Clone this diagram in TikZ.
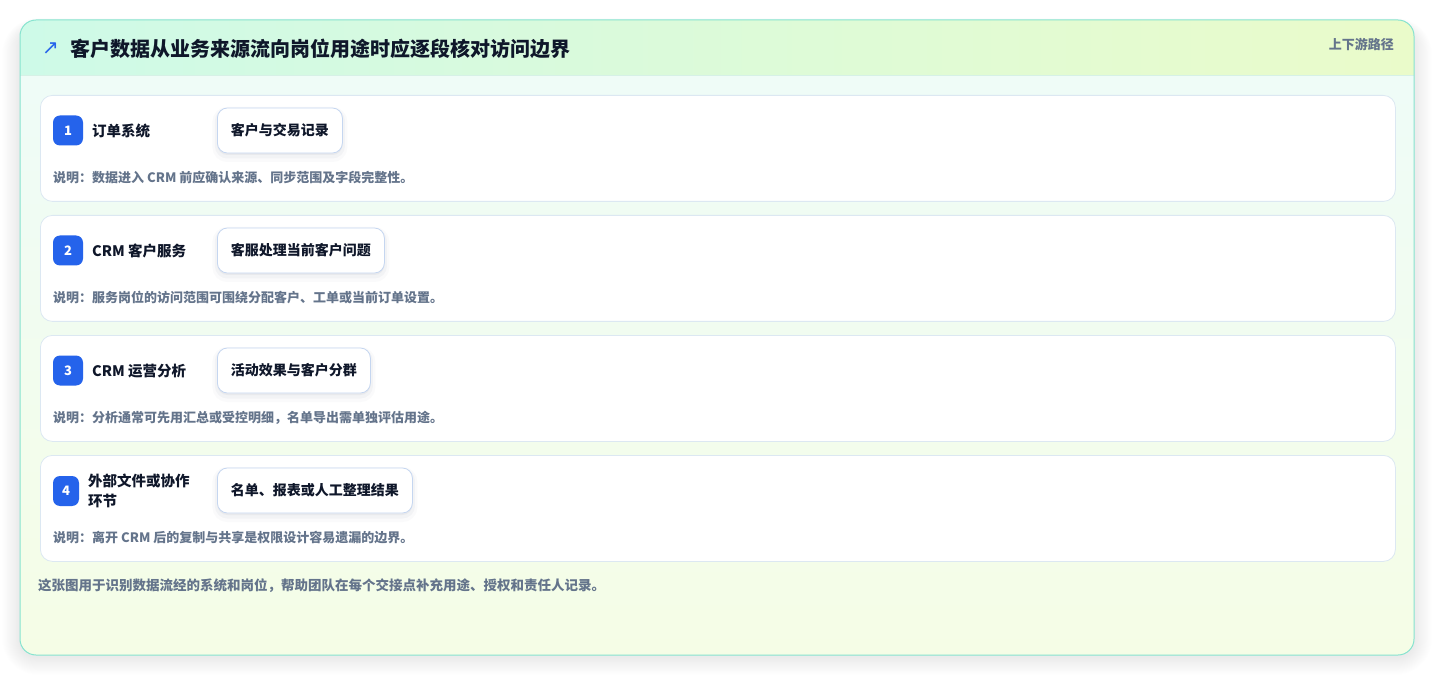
\documentclass[tikz,border=0pt]{standalone}
\usepackage{fontspec}
\setmainfont{Noto Sans CJK SC}
\newfontfamily\symfont{DejaVu Sans}
\definecolor{outerline}{HTML}{86E3CF}
\definecolor{hdrA}{HTML}{CEFAE8}
\definecolor{hdrB}{HTML}{EAFBCA}
\definecolor{bodyA}{HTML}{EEFCF9}
\definecolor{bodyB}{HTML}{F5FDE6}
\definecolor{hdrline}{HTML}{D6F1E6}
\definecolor{cardline}{HTML}{DCE8F2}
\definecolor{pillline}{HTML}{C5D6F0}
\definecolor{badgeblue}{HTML}{2563EB}
\definecolor{ink}{HTML}{0F172A}
\definecolor{muted}{HTML}{64748B}
\definecolor{shadowc}{HTML}{334155}
\tikzset{
  card/.style={draw=cardline, fill=white, rounded corners=12pt, line width=0.8pt,
    minimum width=1355pt, minimum height=106pt, anchor=north west, inner sep=0pt},
  badge/.style={fill=badgeblue, text=white, rounded corners=7pt, minimum height=30pt,
    minimum width=30pt, inner sep=0pt, font=\bfseries\fontsize{13}{13}\selectfont},
  lbl/.style={anchor=west, inner sep=0pt, text=ink, align=left,
    font=\bfseries\fontsize{14.5}{19.5}\selectfont},
  pill/.style={anchor=west, draw=pillline, fill=white, rounded corners=10pt, line width=0.8pt,
    minimum height=45pt, inner xsep=13.5pt, inner ysep=0pt, text=ink,
    font=\bfseries\fontsize{14}{14}\selectfont,
    preaction={draw=shadowc, draw opacity=0.025, line width=10pt, transform canvas={yshift=-4pt}},
    preaction={draw=shadowc, draw opacity=0.035, line width=5pt, transform canvas={yshift=-3pt}},
    preaction={fill=shadowc, fill opacity=0.05, draw=none, transform canvas={yshift=-2pt}}},
  desc/.style={anchor=west, inner sep=0pt, text=muted, font=\bfseries\fontsize{13}{13}\selectfont},
}
\begin{document}
\begin{tikzpicture}[x=1pt,y=-1pt]
\useasboundingbox (0,0) rectangle (1435,676);
\fill[white] (0,0) rectangle (1435,676);
% outer card shadow
\foreach \i in {1,...,20}{
  \fill[shadowc, opacity=0.004, rounded corners=16pt+\i pt]
    (20-\i*0.9,20-\i*0.5+8) rectangle (1414+\i*0.9,655+\i*0.9+2);
}
% outer card
\path[rounded corners=16pt, top color=bodyA, bottom color=bodyB]
  (20,20) rectangle (1414,655);
\begin{scope}
  \clip[rounded corners=16pt] (20,20) rectangle (1414,655);
  \shade[left color=hdrA, right color=hdrB] (20,20) rectangle (1414,75);
\end{scope}
\draw[hdrline, line width=0.8pt] (20,75) -- (1414,75);
\draw[outerline, line width=1pt, rounded corners=16pt] (20,20) rectangle (1414,655);
% header
\node[anchor=center, inner sep=0pt, text=badgeblue, font=\symfont\fontsize{20}{20}\selectfont] (arrow) at (50.5,49) {↗};
\node[anchor=west, inner sep=0pt, text=ink, font=\bfseries\fontsize{20}{20}\selectfont] (title) at (70,49) {客户数据从业务来源流向岗位用途时应逐段核对访问边界};
\node[anchor=east, inner sep=0pt, text=muted, font=\bfseries\fontsize{13}{13}\selectfont] (tag) at (1394,44) {上下游路径};
% cards
\node[card] (c1) at (40,95) {};
\node[card] (c2) at (40,215) {};
\node[card] (c3) at (40,335) {};
\node[card] (c4) at (40,455) {};
% card 1
\node[badge] (b1) at (68,130.5) {1};
\node[lbl] (l1) at (92,131) {订单系统};
\node[pill] (p1) at (217,130.5) {客户与交易记录};
\node[desc] (d1) at (53,178) {说明：数据进入 CRM 前应确认来源、同步范围及字段完整性。};
% card 2
\node[badge] (b2) at (68,250.5) {2};
\node[lbl] (l2) at (92,251) {CRM 客户服务};
\node[pill] (p2) at (217,250.5) {客服处理当前客户问题};
\node[desc] (d2) at (53,298) {说明：服务岗位的访问范围可围绕分配客户、工单或当前订单设置。};
% card 3
\node[badge] (b3) at (68,370.5) {3};
\node[lbl] (l3) at (92,371) {CRM 运营分析};
\node[pill] (p3) at (217,370.5) {活动效果与客户分群};
\node[desc] (d3) at (53,418) {说明：分析通常可先用汇总或受控明细，名单导出需单独评估用途。};
% card 4
\node[badge, minimum width=26pt] (b4) at (66,491) {4};
\node[lbl] (l4) at (88,491) {外部文件或协作\\环节};
\node[pill] (p4) at (217,490.5) {名单、报表或人工整理结果};
\node[desc] (d4) at (53,538) {说明：离开 CRM 后的复制与共享是权限设计容易遗漏的边界。};
% footer
\node[desc, font=\bfseries\fontsize{13.5}{13.5}\selectfont] (foot) at (38,586) {这张图用于识别数据流经的系统和岗位，帮助团队在每个交接点补充用途、授权和责任人记录。};
\end{tikzpicture}
\end{document}
